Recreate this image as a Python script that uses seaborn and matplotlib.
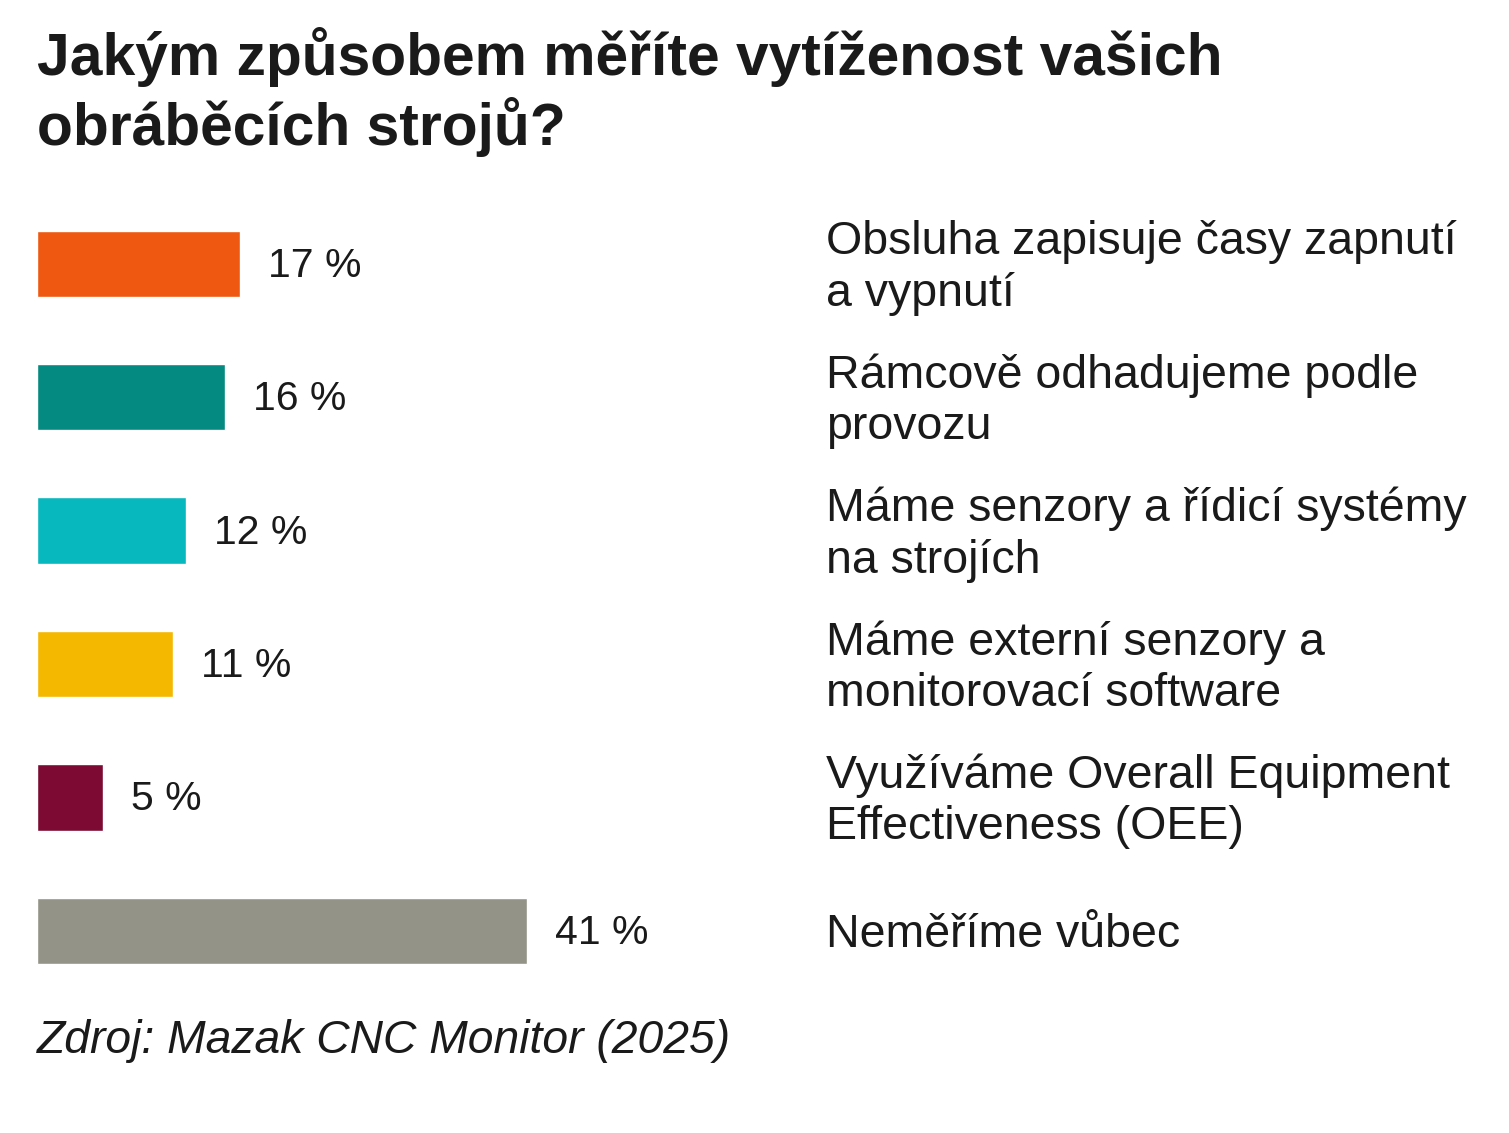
import matplotlib
matplotlib.use("Agg")
import matplotlib.pyplot as plt
import seaborn as sns
import pandas as pd
from matplotlib.transforms import blended_transform_factory

# ---- data ----
categories = [
    "Obsluha zapisuje časy zapnutí\na vypnutí",
    "Rámcově odhadujeme podle\nprovozu",
    "Máme senzory a řídicí systémy\nna strojích",
    "Máme externí senzory a\nmonitorovací software",
    "Využíváme Overall Equipment\nEffectiveness (OEE)",
    "Neměříme vůbec",
]
# bar lengths (labels are the rounded figures)
values = [17.0, 15.7, 12.5, 11.4, 5.5, 41.0]
value_labels = ["17 %", "16 %", "12 %", "11 %", "5 %", "41 %"]
colors = ["#EE5810", "#048A80", "#07B8BE", "#F4B800", "#7D0A33", "#939387"]
title_lines = ["Jakým způsobem měříte vytíženost vašich", "obráběcích strojů?"]
source = "Zdroj: Mazak CNC Monitor (2025)"

sns.set_theme(style="white")
plt.rcParams["font.family"] = ["Liberation Sans", "DejaVu Sans"]

W, H, DPI = 15.09, 11.33, 100
fig = plt.figure(figsize=(W, H), dpi=DPI)
fig.patch.set_facecolor("white")
renderer = fig.canvas.get_renderer()


def fit_size(text, target_px, **kw):
    t = fig.text(0, 0, text, fontsize=30, **kw)
    w = t.get_window_extent(renderer=renderer).width
    t.remove()
    return 30 * target_px / w


def px2fx(px):
    return px / (W * DPI)


def px2fy(py):
    return 1 - py / (H * DPI)


# axes geometry (pixels)
left_px = 36.7
px_per_unit = 11.97
row_px = 133.4
top_px = 263.8 - row_px / 2
ax_w_px = W * DPI - left_px
ax_h_px = row_px * len(categories)
ax = fig.add_axes([px2fx(left_px), px2fy(top_px + ax_h_px),
                   px2fx(ax_w_px), ax_h_px / (H * DPI)])

df = pd.DataFrame({"cat": categories, "val": values})
sns.barplot(data=df, x="val", y="cat", hue="cat", palette=colors,
            legend=False, width=0.497, saturation=1, ax=ax, orient="h")
ax.set_xlim(0, ax_w_px / px_per_unit)
ax.set_ylim(len(categories) - 0.5, -0.5)
ax.axis("off")

val_fs = 29.5
lab_fs = fit_size("Obsluha zapisuje časy zapnutí", 629)
for i, (v, lab) in enumerate(zip(values, value_labels)):
    ax.text(v + 28 / px_per_unit, i + 0.015, lab, fontsize=val_fs,
            color="#1a1a1a", va="center", ha="left")

trans = blended_transform_factory(fig.transFigure, ax.transData)
for i, cat in enumerate(categories):
    ax.text(px2fx(826), i + 0.03, cat, transform=trans, fontsize=lab_fs,
            color="#1a1a1a", va="center", ha="left", linespacing=1.22)

title_fs = fit_size(title_lines[0], 1185, fontweight="bold")
fig.text(px2fx(37), px2fy(57), title_lines[0], fontsize=title_fs,
         fontweight="bold", color="#1a1a1a", va="center", ha="left")
fig.text(px2fx(37), px2fy(127), title_lines[1], fontsize=title_fs,
         fontweight="bold", color="#1a1a1a", va="center", ha="left")

src_fs = fit_size(source, 693, style="italic")
fig.text(px2fx(37), px2fy(1041), source, fontsize=src_fs, style="italic",
         color="#1a1a1a", va="center", ha="left")

fig.savefig("out.png", dpi=DPI, facecolor="white")
